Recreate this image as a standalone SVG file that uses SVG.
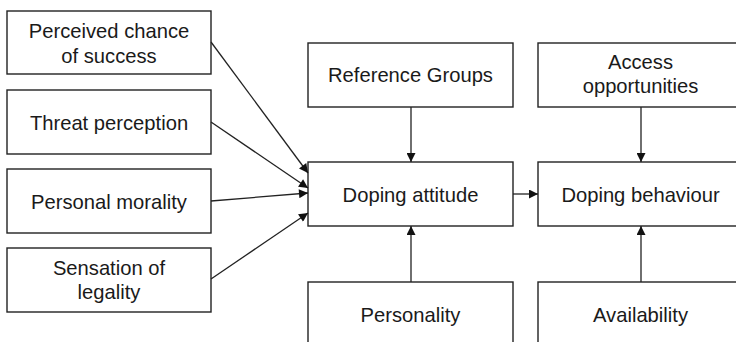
<svg xmlns="http://www.w3.org/2000/svg" width="736" height="342" viewBox="0 0 736 342">
  <style>
    .box { fill: #ffffff; stroke: #222222; stroke-width: 1.4; }
    .lbl { font-family: "Liberation Sans", Arial, sans-serif; font-size: 20.2px; fill: #1a1a1a; text-anchor: middle; }
    .edge { stroke: #222222; stroke-width: 1.3; fill: none; marker-end: url(#arrow); }
  </style>
  <defs>
    <marker id="arrow" viewBox="0 0 10 10" refX="10" refY="5" markerWidth="11" markerHeight="9" markerUnits="userSpaceOnUse" orient="auto">
      <path d="M0,0 L10,5 L0,10 Z" fill="#111111"/>
    </marker>
  </defs>
  <rect width="736" height="342" fill="#ffffff"/>

  <g id="perceived-chance">
    <rect class="box" x="7" y="11" width="204" height="63"/>
    <text class="lbl" x="109" y="37.5">Perceived chance</text>
    <text class="lbl" x="109" y="62.5">of success</text>
  </g>
  <g id="threat-perception">
    <rect class="box" x="7" y="90" width="204" height="64"/>
    <text class="lbl" x="109" y="130">Threat perception</text>
  </g>
  <g id="personal-morality">
    <rect class="box" x="7" y="169" width="204" height="64"/>
    <text class="lbl" x="109" y="208.5">Personal morality</text>
  </g>
  <g id="sensation-legality">
    <rect class="box" x="7" y="248" width="204" height="64"/>
    <text class="lbl" x="109" y="274.5">Sensation of</text>
    <text class="lbl" x="109" y="298.5">legality</text>
  </g>

  <g id="reference-groups">
    <rect class="box" x="308" y="43" width="205" height="64"/>
    <text class="lbl" x="410.5" y="82">Reference Groups</text>
  </g>
  <g id="doping-attitude">
    <rect class="box" x="308" y="162" width="205" height="64"/>
    <text class="lbl" x="410.5" y="202">Doping attitude</text>
  </g>
  <g id="personality">
    <rect class="box" x="308" y="282" width="205" height="80"/>
    <text class="lbl" x="410.5" y="322">Personality</text>
  </g>

  <g id="access-opportunities">
    <rect class="box" x="538" y="43" width="210" height="64"/>
    <text class="lbl" x="640.5" y="69">Access</text>
    <text class="lbl" x="640.5" y="93">opportunities</text>
  </g>
  <g id="doping-behaviour">
    <rect class="box" x="538" y="162" width="210" height="64"/>
    <text class="lbl" x="640.5" y="202">Doping behaviour</text>
  </g>
  <g id="availability">
    <rect class="box" x="538" y="282" width="210" height="80"/>
    <text class="lbl" x="640.5" y="322">Availability</text>
  </g>

  <g id="connectors">
    <line class="edge" x1="211" y1="42" x2="308" y2="173"/>
    <line class="edge" x1="211" y1="122" x2="308" y2="188"/>
    <line class="edge" x1="211" y1="201" x2="308" y2="193"/>
    <line class="edge" x1="211" y1="279" x2="308" y2="213"/>
    <line class="edge" x1="411" y1="107" x2="411" y2="162"/>
    <line class="edge" x1="411" y1="282" x2="411" y2="226"/>
    <line class="edge" x1="641" y1="107" x2="641" y2="162"/>
    <line class="edge" x1="641" y1="282" x2="641" y2="226"/>
    <line class="edge" x1="513" y1="194" x2="538" y2="194"/>
  </g>
</svg>
